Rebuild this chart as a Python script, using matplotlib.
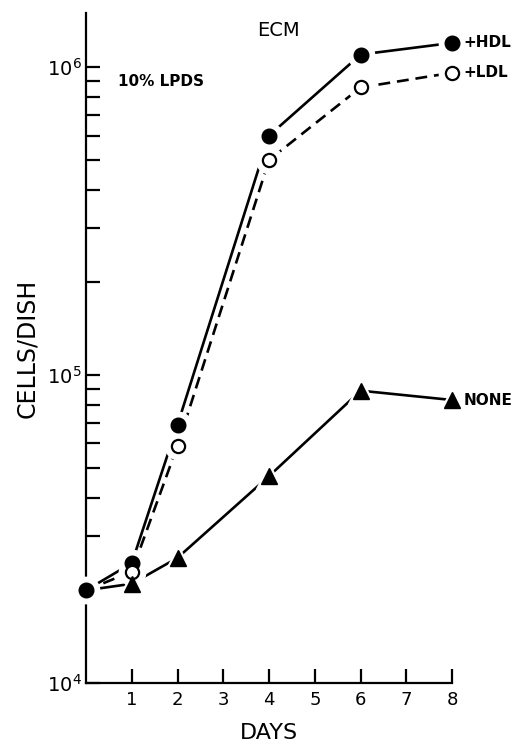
import matplotlib
matplotlib.use("Agg")
import matplotlib.pyplot as plt
import numpy as np
from matplotlib.ticker import LogLocator, NullFormatter, FixedLocator

# data (cells per dish)
days = [0, 1, 2, 4, 6, 8]
hdl = [2.0e4, 2.45e4, 6.9e4, 6.0e5, 1.1e6, 1.2e6]
ldl = [2.0e4, 2.3e4, 5.9e4, 5.0e5, 8.6e5, 9.6e5]
none = [2.0e4, 2.1e4, 2.55e4, 4.7e4, 8.9e4, 8.3e4]
xticks = [1, 2, 3, 4, 5, 6, 7, 8]

plt.rcParams['font.family'] = ['DejaVu Sans']

fig = plt.figure(figsize=(5.18, 7.46), dpi=100)
ax = fig.add_axes([0.166, 0.0845, 0.707, 0.898])

lw = 1.9
ax.set_yscale('log')
ax.set_xlim(0, 8)
ax.set_ylim(1e4, 1.5e6)

# lines
ax.plot(days, hdl, color='black', lw=lw, zorder=2, clip_on=False)
l2, = ax.plot(days, ldl, color='black', lw=lw, zorder=2, clip_on=False)
l2.set_dashes((4.5, 2.6))
ax.plot(days, none, color='black', lw=lw, zorder=2, clip_on=False)

# white halo around markers (gaps in lines, as in the original drawing)
for ys, m, start in [(hdl, 'o', 0), (ldl, 'o', 1), (none, '^', 1)]:
    ax.plot(days[start:], ys[start:], ls='none', marker=m, ms=19, mfc='white',
            mec='white', zorder=3, clip_on=False)

ax.plot(days, hdl, ls='none', marker='o', ms=10.5, mfc='black', mec='black',
        zorder=4, clip_on=False)
ax.plot(days[1:], ldl[1:], ls='none', marker='o', ms=9.5, mfc='white', mec='black',
        mew=1.6, zorder=4, clip_on=False)
ax.plot(days[1:], none[1:], ls='none', marker='^', ms=11.5, mfc='black', mec='black',
        zorder=4, clip_on=False)

# axes styling
for s in ['top', 'right']:
    ax.spines[s].set_visible(False)
for s in ['left', 'bottom']:
    ax.spines[s].set_linewidth(1.6)

ax.xaxis.set_major_locator(FixedLocator(xticks))
ax.set_xticklabels([str(t) for t in xticks])
ax.yaxis.set_major_locator(FixedLocator([1e4, 1e5, 1e6]))
ax.set_yticklabels(['$\\mathregular{10^4}$', '$\\mathregular{10^5}$', '$\\mathregular{10^6}$'])
ax.yaxis.set_minor_locator(LogLocator(base=10, subs=np.arange(2, 10)))
ax.yaxis.set_minor_formatter(NullFormatter())

ax.tick_params(axis='both', which='both', direction='in', length=10, width=1.6)
ax.tick_params(axis='x', labelsize=13, pad=6)
ax.tick_params(axis='y', labelsize=14, pad=3)

ax.set_xlabel('DAYS', fontsize=16, labelpad=10)
ax.set_ylabel('CELLS/DISH', fontsize=17, labelpad=6)

# annotations
ax.text(4.2, 1.32e6, 'ECM', fontsize=14, ha='center', va='center')
ax.text(0.7, 9.0e5, '10% LPDS', fontsize=11, fontweight='bold', ha='left', va='center')
ax.text(8.25, 1.2e6, '+HDL', fontsize=11, fontweight='bold', ha='left', va='center')
ax.text(8.25, 9.6e5, '+LDL', fontsize=11, fontweight='bold', ha='left', va='center')
ax.text(8.25, 8.3e4, 'NONE', fontsize=11, fontweight='bold', ha='left', va='center')

fig.savefig('out.png', dpi=100)
